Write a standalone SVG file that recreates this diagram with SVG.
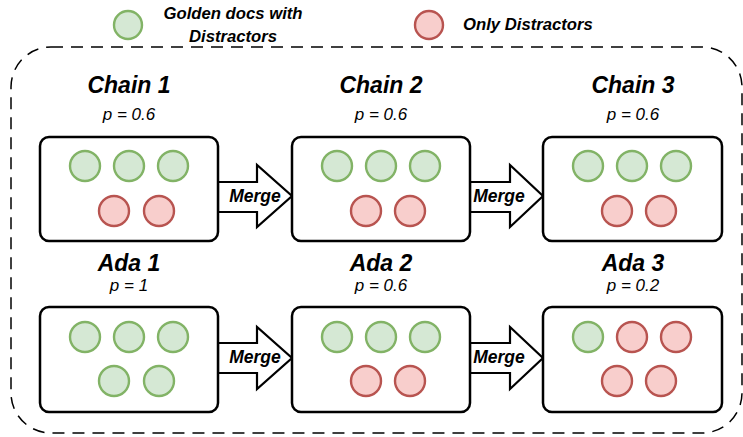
<svg xmlns="http://www.w3.org/2000/svg" width="743" height="437" viewBox="0 0 743 437">
<style>
.g{fill:#d5e8d4;stroke:#82b366;stroke-width:2.4}
.r{fill:#f8cecc;stroke:#b85450;stroke-width:2.4}
.box{fill:#fff;stroke:#000;stroke-width:2.5}
.arr{fill:#fff;stroke:#000;stroke-width:2.2;stroke-linejoin:miter}
.t{font-family:"Liberation Sans",Arial,sans-serif;font-weight:bold;font-style:italic;font-size:23px;text-anchor:middle;fill:#000}
.p{font-family:"Liberation Sans",Arial,sans-serif;font-style:italic;font-size:17px;text-anchor:middle;fill:#000}
.m{font-family:"Liberation Sans",Arial,sans-serif;font-weight:bold;font-style:italic;font-size:17.5px;text-anchor:middle;fill:#000}
.l{font-family:"Liberation Sans",Arial,sans-serif;font-weight:bold;font-style:italic;font-size:16.7px;fill:#000}
</style>
<rect width="743" height="437" fill="#fff"/>
<g id="frame">
<rect x="11" y="47" width="731" height="386" rx="40" ry="40" fill="none" stroke="#000" stroke-width="1.5" stroke-dasharray="12 8"/>
</g>
<g id="legend">
<circle class="g" cx="128" cy="25" r="14"/>
<text class="l" x="233" y="19" text-anchor="middle">Golden docs with</text>
<text class="l" x="233" y="42" text-anchor="middle">Distractors</text>
<circle class="r" cx="429" cy="25" r="14"/>
<text class="l" x="463" y="30">Only Distractors</text>
</g>
<g id="connectors">
<path class="arr" d="M218,182 H257 V165 L292,196 L257,227 V212 H218 Z"/>
<text class="m" x="255" y="202">Merge</text>
<path class="arr" d="M470,182 H510 V165 L543,196 L510,227 V212 H470 Z"/>
<text class="m" x="499" y="202">Merge</text>
<path class="arr" d="M218,343 H257 V327 L292,358 L257,389 V373 H218 Z"/>
<text class="m" x="255" y="363">Merge</text>
<path class="arr" d="M470,343 H510 V327 L543,358 L510,389 V373 H470 Z"/>
<text class="m" x="499" y="363">Merge</text>
</g>
<g id="chain1">
<text class="t" x="129" y="93">Chain 1</text>
<text class="p" x="129" y="120">p = 0.6</text>
<rect class="box" x="40" y="137" width="178" height="104" rx="9"/>
<circle class="g" cx="85" cy="166" r="15"/><circle class="g" cx="129" cy="166" r="15"/><circle class="g" cx="173" cy="166" r="15"/>
<circle class="r" cx="114" cy="211" r="15"/><circle class="r" cx="159" cy="211" r="15"/>
</g>
<g id="chain2">
<text class="t" x="381" y="93">Chain 2</text>
<text class="p" x="381" y="120">p = 0.6</text>
<rect class="box" x="292" y="137" width="178" height="104" rx="9"/>
<circle class="g" cx="337" cy="166" r="15"/><circle class="g" cx="381" cy="166" r="15"/><circle class="g" cx="425" cy="166" r="15"/>
<circle class="r" cx="366" cy="211" r="15"/><circle class="r" cx="410" cy="211" r="15"/>
</g>
<g id="chain3">
<text class="t" x="633" y="93">Chain 3</text>
<text class="p" x="633" y="120">p = 0.6</text>
<rect class="box" x="543" y="137" width="179" height="104" rx="9"/>
<circle class="g" cx="588" cy="166" r="15"/><circle class="g" cx="632" cy="166" r="15"/><circle class="g" cx="676" cy="166" r="15"/>
<circle class="r" cx="617" cy="211" r="15"/><circle class="r" cx="661" cy="211" r="15"/>
</g>
<g id="ada1">
<text class="t" x="129" y="271">Ada 1</text>
<text class="p" x="129" y="291">p = 1</text>
<rect class="box" x="40" y="307" width="178" height="105" rx="9"/>
<circle class="g" cx="85" cy="337" r="15"/><circle class="g" cx="129" cy="337" r="15"/><circle class="g" cx="173" cy="337" r="15"/>
<circle class="g" cx="114" cy="381" r="15"/><circle class="g" cx="159" cy="381" r="15"/>
</g>
<g id="ada2">
<text class="t" x="381" y="271">Ada 2</text>
<text class="p" x="381" y="291">p = 0.6</text>
<rect class="box" x="292" y="307" width="178" height="105" rx="9"/>
<circle class="g" cx="337" cy="337" r="15"/><circle class="g" cx="381" cy="337" r="15"/><circle class="g" cx="425" cy="337" r="15"/>
<circle class="r" cx="366" cy="381" r="15"/><circle class="r" cx="410" cy="381" r="15"/>
</g>
<g id="ada3">
<text class="t" x="633" y="271">Ada 3</text>
<text class="p" x="633" y="291">p = 0.2</text>
<rect class="box" x="543" y="307" width="179" height="105" rx="9"/>
<circle class="g" cx="588" cy="337" r="15"/><circle class="r" cx="632" cy="337" r="15"/><circle class="r" cx="676" cy="337" r="15"/>
<circle class="r" cx="617" cy="381" r="15"/><circle class="r" cx="661" cy="381" r="15"/>
</g>
</svg>
